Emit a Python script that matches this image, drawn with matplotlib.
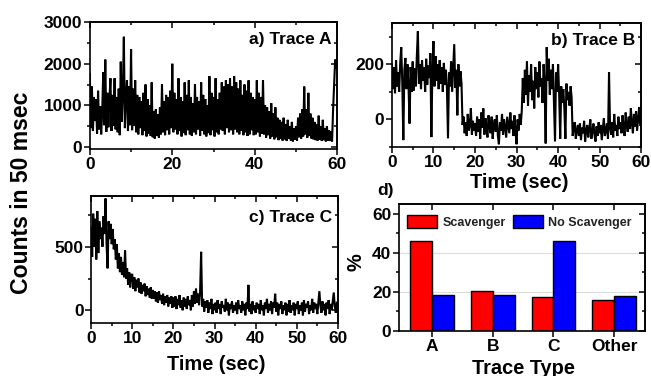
import numpy as np
import matplotlib
matplotlib.use("Agg")
import matplotlib.pyplot as plt
from matplotlib import font_manager as fm
from matplotlib.ticker import MultipleLocator, FixedLocator

# ---------------- data ----------------
dt = 0.25  # seconds between plotted samples

trace_a = [
    1750, 450, 1450, 380, 1200, 620, 1150, 320, 1350, 420, 980, 300, 850, 1800, 520, 2100, 360, 1300, 470, 1150,
    1650, 380, 1250, 500, 1650, 420, 1200, 350, 1400, 280, 2050, 600, 1300, 2650, 450, 1200, 1600, 380, 1450, 520,
    2350, 400, 1400, 500, 1600, 350, 1250, 300, 1200, 450, 1100, 280, 1300, 380, 1500, 250, 1150, 320, 1000, 260,
    1550, 230, 850, 200, 900, 260, 780, 220, 950, 300, 1500, 350, 1100, 280, 1250, 400, 1200, 300, 1350, 450,
    2000, 350, 1300, 420, 1150, 300, 1650, 380, 1200, 250, 1100, 330, 1550, 280, 1250, 400, 1600, 300, 1200, 260,
    1050, 350, 1500, 300, 1200, 420, 1100, 270, 1550, 380, 1250, 300, 1150, 250, 1000, 330, 1700, 280, 1300, 400,
    1200, 250, 1650, 350, 1150, 300, 1300, 420, 1550, 380, 1450, 300, 1600, 450, 1500, 350, 1650, 400, 1450, 300,
    1700, 420, 1550, 350, 1400, 300, 1600, 380, 1250, 280, 1500, 350, 1350, 260, 1600, 300, 1300, 400, 1200, 280,
    1150, 300, 1600, 350, 1300, 250, 1200, 320, 1600, 300, 1000, 220, 950, 280, 850, 200, 1050, 250, 800, 180,
    950, 230, 700, 160, 650, 200, 600, 150, 700, 180, 550, 140, 650, 200, 500, 150, 600, 130, 450, 170,
    500, 150, 700, 230, 800, 200, 900, 250, 1450, 300, 900, 220, 1300, 260, 800, 200, 700, 180, 600, 160,
    550, 150, 750, 170, 500, 140, 650, 160, 450, 130, 500, 150, 400, 140, 380, 130, 900, 1500, 2100, 1900,
]

trace_b = [
    200, 110, 190, 95, 215, 120, 170, 100, 205, 262, 130, -75, 180, 223, 110, 200, 120, -15, 190, 100,
    210, 105, 185, 120, 230, 320, 130, 200, 110, 215, 140, 190, 100, 220, 125, 195, 150, 240, -64, 180,
    284, 120, 230, 140, 200, 110, 215, 130, 190, 100, 205, 125, 180, 110, -68, 170, 120, 210, 100, 190,
    273, 115, 180, 15, 200, 120, 175, 130, -20, 10, -50, -10, -60, 20, -40, -20, 40, -55, -5, -40,
    -15, -60, 10, -45, 0, -70, 25, -30, 40, -55, 5, -35, -65, 15, -25, -50, 10, -70, -20, 0,
    -45, 15, -60, -90, -10, -40, 20, -55, 0, -30, -65, 10, -20, -50, 25, -35, -5, -60, 15, -45,
    -90, 0, -40, 20, -20, 30, 150, 60, 180, 90, 210, 50, 160, 100, 200, 70, 140, 40, 190, 110,
    170, 80, 210, 120, 150, 60, 200, 130, -87, 262, 140, 220, 90, 180, 110, 200, 60, -80, 170, 100,
    200, 90, -70, 120, 60, 110, 40, -70, 130, 70, 100, 50, 120, 80, -60, -30, -10, -70, -40, -20,
    -60, -15, -75, -30, -50, -5, -80, -40, -20, -65, -35, 0, -70, -45, -15, -55, -80, -25, -60, -10,
    -50, -20, -75, -35, 5, -60, -40, -15, -70, 171, -30, -55, -10, -65, 20, -40, -20, -60, 10, -35,
    -10, -50, 15, -30, -60, 25, -20, -45, 10, -35, 40, -15, -50, 20, -25, 30, -40, 0, 45, -20,
]

trace_c = [
    650, 420, 760, 500, 720, 400, 780, 450, 700, 560, 650, 500, 740, 600, 880, 520, 330, 700, 560, 680,
    520, 640, 480, 560, 400, 520, 330, 450, 300, 420, 280, 380, 260, 470, 250, 330, 200, 300, 180, 280,
    280, 170, 260, 150, 240, 180, 250, 140, 220, 130, 200, 150, 210, 110, 190, 120, 170, 100, 180, 90,
    160, 90, 150, 70, 140, 60, 150, 80, 120, 50, 130, 40, 110, 60, 120, 30, 100, 50, 110, 20,
    100, 30, 110, 10, 90, 40, 120, 20, 80, 0, 100, 30, 90, 10, 110, 40, 80, 0, 120, 30,
    150, 50, 170, 60, 130, 40, 150, 460, 30, 90, -10, 70, 20, 80, -20, 60, 10, 90, -30, 50,
    0, 60, -20, 80, 10, 50, -30, 70, 20, 40, -10, 90, 0, 60, -40, 50, 10, 70, -20, 40,
    0, 60, -30, 80, 10, 40, -20, 70, 0, 50, -40, 60, 10, 200, -10, 50, -30, 70, 0, 40,
    -20, 60, 10, 50, -30, 80, 0, 40, -40, 60, 10, 90, -20, 50, 0, 70, -30, 60, 20, 130,
    -10, 60, -40, 50, 10, 70, -30, 40, 0, 60, -40, 50, -10, 80, -20, 40, 0, 60, -40, 50,
    10, 70, -30, 40, 0, 60, -40, 80, -10, 50, 20, 70, -30, 40, 0, 90, -20, 60, 10, 50,
    -30, 60, 150, 40, -20, 70, 0, 50, -40, 60, 10, 80, -30, 50, 0, 70, 140, 30, -20, 60,
]

categories = ["A", "B", "C", "Other"]
scavenger = [46.3, 20.4, 17.5, 15.8]
no_scavenger = [18.2, 18.5, 46.3, 17.8]

# ---------------- fonts ----------------
BOLD = "Liberation Sans"
try:
    fm.findfont(fm.FontProperties(family="Liberation Sans Narrow", weight="bold"),
                fallback_to_default=False)
    NARROW = "Liberation Sans Narrow"
    nscale = 1.0
except Exception:
    NARROW = "Liberation Sans"
    nscale = 0.85

plt.rcParams["font.family"] = [BOLD, "DejaVu Sans"]
plt.rcParams["font.weight"] = "bold"

fig = plt.figure(figsize=(6.51, 3.76), dpi=100)

TICK_FS = 12.5
LW_SPINE = 1.2


def style_axes(ax, xmaj, xmin, ymaj, ymin):
    for s in ax.spines.values():
        s.set_linewidth(LW_SPINE)
    if xmaj is not None:
        ax.xaxis.set_major_locator(MultipleLocator(xmaj))
    if xmin is not None:
        ax.xaxis.set_minor_locator(MultipleLocator(xmin))
    ax.yaxis.set_major_locator(MultipleLocator(ymaj))
    ax.yaxis.set_minor_locator(MultipleLocator(ymin))
    ax.tick_params(which="both", direction="out", width=1.1, labelsize=TICK_FS, pad=1.5)
    ax.tick_params(which="major", length=4)
    ax.tick_params(which="minor", length=2.5)
    for lab in ax.get_xticklabels() + ax.get_yticklabels():
        lab.set_fontweight("bold")
    top = ax.secondary_xaxis("top")
    right = ax.secondary_yaxis("right")
    if xmaj is not None:
        top.xaxis.set_major_locator(MultipleLocator(xmaj))
    else:
        top.xaxis.set_major_locator(FixedLocator(ax.get_xticks()))
    if xmin is not None:
        top.xaxis.set_minor_locator(MultipleLocator(xmin))
    right.yaxis.set_major_locator(MultipleLocator(ymaj))
    right.yaxis.set_minor_locator(MultipleLocator(ymin))
    for sec in (top, right):
        sec.tick_params(which="both", direction="in", width=1.1, labeltop=False,
                        labelright=False)
        sec.tick_params(which="major", length=4)
        sec.tick_params(which="minor", length=2.5)
        for s in sec.spines.values():
            s.set_linewidth(LW_SPINE)


def trace_panel(rect, values, ylim, xmaj, xmin, ymaj, ymin, title, title_y):
    ax = fig.add_axes(rect)
    t = np.arange(len(values)) * dt
    ax.plot(t, values, color="black", lw=1.5, solid_joinstyle="miter")
    ax.set_xlim(0, 60)
    ax.set_ylim(*ylim)
    style_axes(ax, xmaj, xmin, ymaj, ymin)
    ax.text(0.975, title_y, title, transform=ax.transAxes, ha="right", va="center",
            fontsize=12.5, fontweight="bold")
    return ax


ax_a = trace_panel([0.138, 0.604, 0.380, 0.337], trace_a, (-50, 3000),
                   20, 10, 1000, 500, "a) Trace A", 0.86)
ax_b = trace_panel([0.602, 0.609, 0.383, 0.330], trace_b, (-100, 350),
                   10, 5, 200, 100, "b) Trace B", 0.86)
ax_c = trace_panel([0.140, 0.141, 0.379, 0.338], trace_c, (-100, 900),
                   10, 5, 500, 250, "c) Trace C", 0.83)

# ---------------- bar panel ----------------
ax_d = fig.add_axes([0.613, 0.120, 0.378, 0.337])
x = np.arange(len(categories))
w = 0.36
ax_d.axhline(20, color="#dcdcdc", lw=0.8, zorder=0)
ax_d.axhline(40, color="#dcdcdc", lw=0.8, zorder=0)
ax_d.bar(x - w / 2, scavenger, w, color="#ff0000", edgecolor="black", lw=1.0,
         label="Scavenger", zorder=2)
ax_d.bar(x + w / 2, no_scavenger, w, color="#0000ff", edgecolor="black", lw=1.0,
         label="No Scavenger", zorder=2)
ax_d.set_xlim(-0.54, 3.51)
ax_d.set_ylim(0, 65)
ax_d.set_xticks(x)
ax_d.set_xticklabels(categories)
style_axes(ax_d, None, None, 20, 10)
leg = ax_d.legend(loc="upper left", bbox_to_anchor=(0.033, 0.915), ncol=2, frameon=False,
                  fontsize=9, handlelength=2.4, handleheight=1.2, handletextpad=0.4,
                  columnspacing=0.6, borderpad=0, borderaxespad=0)
for txt in leg.get_texts():
    txt.set_fontweight("bold")
    txt.set_color("#222222")

# ---------------- labels ----------------
fig.text(22 / 651, 1 - 193 / 376, "Counts in 50 msec", rotation=90, ha="center", va="center",
         fontsize=19.5 * nscale, fontweight="bold", family=NARROW)
fig.text(519 / 651, 1 - 183 / 376, "Time (sec)", ha="center", va="center",
         fontsize=17 * nscale, fontweight="bold", family=NARROW)
fig.text(216 / 651, 1 - 364 / 376, "Time (sec)", ha="center", va="center",
         fontsize=17 * nscale, fontweight="bold", family=NARROW)
fig.text(523 / 651, 1 - 368 / 376, "Trace Type", ha="center", va="center",
         fontsize=17 * nscale, fontweight="bold", family=NARROW)
fig.text(356 / 651, 1 - 262 / 376, "%", rotation=90, ha="center", va="center",
         fontsize=17 * nscale, fontweight="bold", family=NARROW)
fig.text(385 / 651, 1 - 191 / 376, "d)", ha="center", va="center",
         fontsize=12.5, fontweight="bold")

fig.savefig("out.png", dpi=100)
